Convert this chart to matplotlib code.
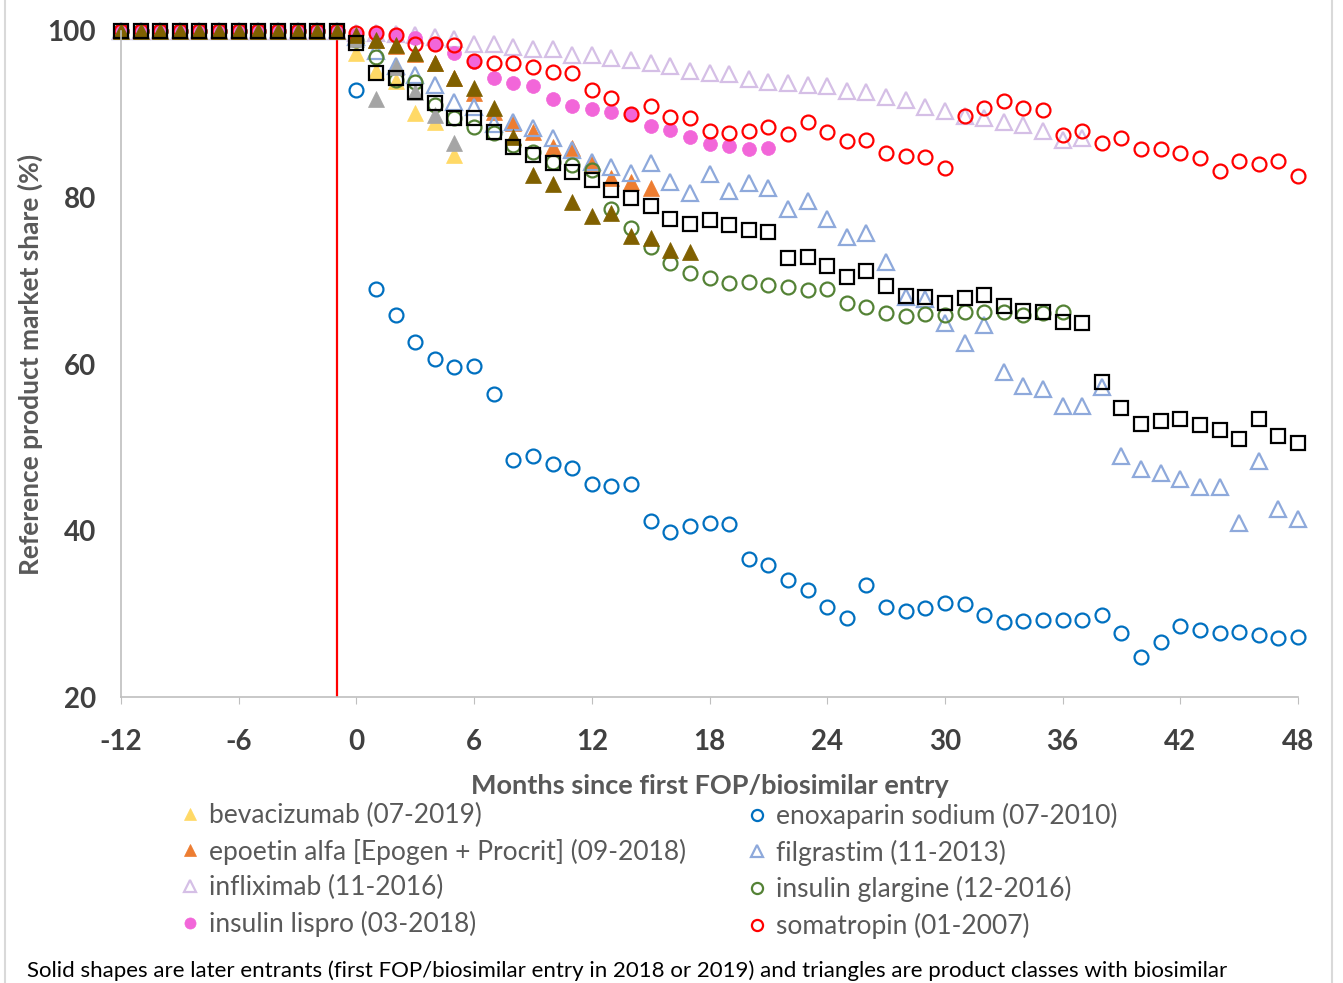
import matplotlib
matplotlib.use("Agg")
import matplotlib.pyplot as plt
from matplotlib.patches import Rectangle

plt.rcParams['font.family'] = ['Lato', 'DejaVu Sans']
plt.rcParams['axes.unicode_minus'] = False

months = list(range(-12, 49))
pre_entry = [100, 100, 100, 100, 100, 100, 100, 100, 100, 100, 100, 100]

# market share from month 0 onwards
bevacizumab = [97.3, 95.2, 94.0, 90.2, 89.1, 85.1]
enoxaparin = [92.9, 69.0, 65.9, 62.6, 60.6, 59.7, 59.8, 56.4, 48.5, 49.0,
              48.0, 47.5, 45.6, 45.3, 45.6, 41.2, 39.8, 40.6, 40.9, 40.8,
              36.6, 35.8, 34.0, 32.8, 30.8, 29.5, 33.5, 30.8, 30.3, 30.7,
              31.3, 31.2, 29.9, 29.0, 29.1, 29.3, 29.2, 29.2, 29.8, 27.7,
              24.8, 26.6, 28.5, 28.1, 27.7, 27.8, 27.5, 27.1, 27.2]
epoetin = [99.4, 98.9, 98.2, 97.2, 96.1, 94.3, 92.6, 90.3, 88.9, 87.9,
           86.1, 85.9, 84.1, 82.3, 81.9, 81.1]
filgrastim = [99.3, 97.6, 95.8, 94.7, 93.5, 91.5, 90.9, 88.8, 89.1, 88.3,
              87.2, 85.7, 84.3, 83.7, 83.0, 84.1, 81.8, 80.5, 82.8, 80.8,
              81.7, 81.1, 78.6, 79.6, 77.4, 75.2, 75.7, 72.3, 68.1, 67.8,
              64.9, 62.5, 64.7, 59.0, 57.3, 57.0, 55.0, 55.0, 57.2, 48.9,
              47.4, 46.9, 46.2, 45.2, 45.2, 40.9, 48.3, 42.6, 41.4]
infliximab = [99.8, 99.7, 99.6, 99.5, 99.3, 99.0, 98.4, 98.4, 98.1, 97.8,
              97.8, 97.1, 97.1, 96.8, 96.5, 96.2, 95.8, 95.2, 95.0, 94.8,
              94.2, 93.9, 93.8, 93.5, 93.4, 92.8, 92.7, 92.1, 91.7, 90.9,
              90.4, 89.8, 89.5, 89.1, 88.7, 88.0, 86.9, 87.1]
glargine = [98.9, 96.9, 94.1, 93.9, 91.1, 89.5, 88.5, 87.8, 86.3, 85.5,
            84.3, 83.9, 83.3, 78.6, 76.3, 74.1, 72.1, 70.9, 70.3, 69.7,
            69.9, 69.5, 69.2, 68.9, 69.0, 67.3, 66.8, 66.1, 65.8, 66.0,
            65.9, 66.2, 66.3, 66.3, 65.9, 66.1, 66.2]
lispro = [99.5, 99.7, 99.5, 99.2, 98.4, 97.3, 96.3, 94.4, 93.7, 93.4,
          91.8, 91.0, 90.6, 90.3, 90.0, 88.6, 88.1, 87.3, 86.4, 86.2,
          85.8, 85.9]
somatropin = [99.7, 99.8, 99.5, 98.4, 98.4, 98.3, 96.4, 96.2, 96.2, 95.7,
              95.1, 94.9, 92.9, 92.0, 90.0, 91.0, 89.7, 89.5, 88.0, 87.7,
              88.0, 88.5, 87.6, 89.1, 87.9, 86.8, 86.9, 85.3, 85.0, 84.9,
              83.5, 89.8, 90.8, 91.6, 90.8, 90.5, 87.5, 88.0, 86.5, 87.1,
              85.8, 85.8, 85.3, 84.7, 83.2, 84.4, 84.0, 84.4, 82.6]
# series without a visible legend entry
gray_tri = [99.0, 91.8, 95.7, 92.7, 89.9, 86.5]
brown_tri = [99.5, 98.9, 98.3, 97.3, 96.2, 94.4, 93.2, 90.8, 87.3, 82.7,
             81.6, 79.5, 77.8, 78.1, 75.4, 75.1, 73.7, 73.5]
black_sq = [98.6, 95.0, 94.4, 92.7, 91.3, 89.5, 89.6, 87.9, 86.1, 85.1,
            84.1, 83.1, 82.1, 80.9, 79.9, 79.0, 77.4, 76.8, 77.3, 76.7,
            76.1, 75.9, 72.7, 72.9, 71.8, 70.5, 71.2, 69.4, 68.2, 68.1,
            67.3, 67.9, 68.3, 67.0, 66.4, 66.2, 65.1, 64.9, 57.8, 54.7,
            52.8, 53.2, 53.4, 52.7, 52.1, 51.0, 53.4, 51.4, 50.5]

# (label, values, marker, color, filled)
series = [
    ('bevacizumab (07-2019)', bevacizumab, '^', '#FFD966', True),
    ('enoxaparin sodium (07-2010)', enoxaparin, 'o', '#0070C0', False),
    ('epoetin alfa [Epogen + Procrit] (09-2018)', epoetin, '^', '#ED7D31', True),
    ('filgrastim (11-2013)', filgrastim, '^', '#8EA9DB', False),
    ('infliximab (11-2016)', infliximab, '^', '#D5BFE6', False),
    ('insulin glargine (12-2016)', glargine, 'o', '#548235', False),
    ('insulin lispro (03-2018)', lispro, 'o', '#F266D9', True),
    ('somatropin (01-2007)', somatropin, 'o', '#FF0000', False),
    (None, gray_tri, '^', '#A5A5A5', True),
    (None, brown_tri, '^', '#806000', True),
    (None, black_sq, 's', '#000000', False),
]

fig = plt.figure(figsize=(13.43, 9.83), dpi=100)
ax = fig.add_axes([0.0901, 0.2909, 0.8764, 0.6776])

handles = {}
for label, vals, mk, col, filled in series:
    y = pre_entry + vals
    x = months[:len(y)]
    size = {'o': 10, '^': 11, 's': 10}[mk]
    line, = ax.plot(x, y, linestyle='none', marker=mk, markersize=size,
                    markerfacecolor=col if filled else 'none',
                    markeredgecolor=col, markeredgewidth=1.6 if not filled else 0.5,
                    clip_on=False)
    if label:
        handles[label] = line

ax.axvline(-1, color='#FF0000', linewidth=1.6, zorder=0)

ax.set_xlim(-12, 48)
ax.set_ylim(20, 100)
ax.set_xticks(range(-12, 49, 6))
ax.set_yticks([20, 40, 60, 80, 100])
ax.tick_params(axis='x', direction='out', length=5, color='#BFBFBF', pad=18,
               labelsize=20, labelcolor='#404040')
ax.tick_params(axis='y', length=0, pad=18, labelsize=20, labelcolor='#404040')
for t in ax.get_xticklabels() + ax.get_yticklabels():
    t.set_fontweight('bold')
for s in ['top', 'right']:
    ax.spines[s].set_visible(False)
for s in ['left', 'bottom']:
    ax.spines[s].set_color('#BFBFBF')
    ax.spines[s].set_linewidth(1.2)

ax.set_xlabel('Months since first FOP/biosimilar entry', fontsize=19.5,
              fontweight='bold', color='#595959', labelpad=14)
ax.set_ylabel('Reference product market share (%)', fontsize=19,
              fontweight='bold', color='#595959')
ax.yaxis.set_label_coords(-0.066, 0.5)

left_labels = ['bevacizumab (07-2019)', 'epoetin alfa [Epogen + Procrit] (09-2018)',
               'infliximab (11-2016)', 'insulin lispro (03-2018)']
right_labels = ['enoxaparin sodium (07-2010)', 'filgrastim (11-2013)',
                'insulin glargine (12-2016)', 'somatropin (01-2007)']
for labels, xpos in [(left_labels, 0.127), (right_labels, 0.549)]:
    fig.legend([handles[l] for l in labels], labels, loc='upper left',
               bbox_to_anchor=(xpos, 0.194), frameon=False, fontsize=19,
               labelcolor='#595959', markerscale=0.8, handlelength=0.7,
               handletextpad=0.35, labelspacing=0.4, borderaxespad=0)

fig.text(0.02, 0.006, 'Solid shapes are later entrants (first FOP/biosimilar entry in 2018 '
         'or 2019) and triangles are product classes with biosimilar',
         fontsize=16, color='black')

fig.patches.append(Rectangle((0.004, -0.01), 0.988, 1.02, transform=fig.transFigure,
                             fill=False, edgecolor='#D9D9D9', linewidth=1.5))

fig.savefig('out.png', dpi=100)
